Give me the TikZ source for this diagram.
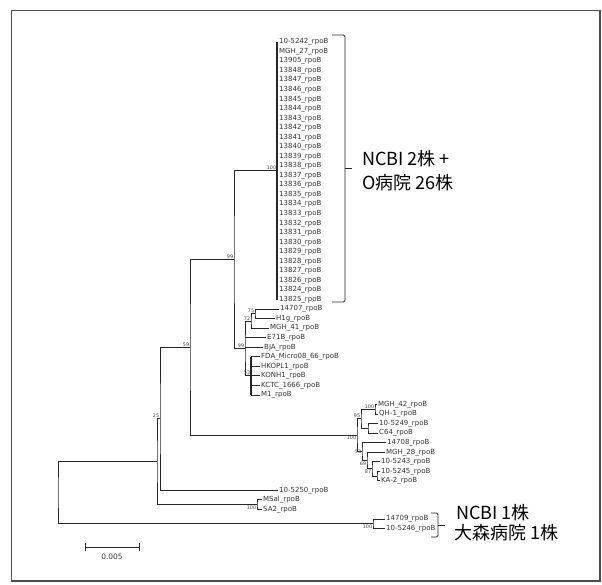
\documentclass[tikz,border=0pt]{standalone}
\usepackage{fontspec}
\newfontfamily\leaffont{DejaVu Sans}
\newfontfamily\jpfont{Noto Sans CJK JP}
\begin{document}
\begin{tikzpicture}[x=1pt, y=-1pt,
  branch/.style={line width=0.9pt, black!85},
  leaf/.style={anchor=west, inner sep=1pt, font=\leaffont\fontsize{7}{7}\selectfont, text=black!80},
  boot/.style={inner sep=0.7pt, font=\leaffont\fontsize{4.8}{5}\selectfont, text=black!75},
  group/.style={anchor=west, inner sep=0pt, font=\jpfont\fontsize{18}{18}\selectfont},
  brace/.style={line width=0.9pt, black!85, rounded corners=1.5pt}]

  \useasboundingbox (0,0) rectangle (602,584);

  % Frame
  \draw[line width=1.1pt, black!70] (11.5,10.5) rectangle (600,581);

  % Leaves
  \foreach \i/\x/\lab in {0/278/10-5242, 1/278/MGH\_27, 2/278/13905, 3/278/13848, 4/278/13847,
      5/278/13846, 6/278/13845, 7/278/13844, 8/278/13843, 9/278/13842, 10/278/13841,
      11/278/13840, 12/278/13839, 13/278/13838, 14/278/13837, 15/278/13836, 16/278/13835,
      17/278/13834, 18/278/13833, 19/278/13832, 20/278/13831, 21/278/13830, 22/278/13829,
      23/278/13828, 24/278/13827, 25/278/13826, 26/278/13824, 27/278/13825,
      28/279/14707, 29/275/H1g, 30/269/MGH\_41, 31/266/E71B, 32/263/BJA,
      33/260/FDA\_Micro08\_66, 34/260/HKOPL1, 35/260/KONH1, 36/260/KCTC\_1666, 37/260/M1,
      38/377/MGH\_42, 39/378/QH-1, 40/378/10-5249, 41/378/C64, 42/386/14708,
      43/385/MGH\_28, 44/380/10-5243, 45/380/10-5245, 46/380/KA-2,
      47/278/10-5250, 48/262/MSal, 49/262/SA2, 50/385/14709, 51/385/10-5246} {
    \node[leaf] (l\i) at (\x,{42+9.54*\i}) {\lab\_rpoB};
  }

  % Internal nodes
  \coordinate (nD) at (277,170.8);
  \coordinate (nE2) at (255,313.9);
  \coordinate (nE1) at (251,321.1);
  \coordinate (nE3) at (251,375.9);
  \coordinate (nE) at (245,348.5);
  \coordinate (nC) at (234,259.6);
  \coordinate (nF1) at (375,409.3);
  \coordinate (nF2) at (368,428.4);
  \coordinate (nF3) at (361,418.9);
  \coordinate (nF7) at (377,476.1);
  \coordinate (nF6) at (372,468.9);
  \coordinate (nF5) at (367,460.6);
  \coordinate (nF4) at (362,451.6);
  \coordinate (nF) at (357,435.3);
  \coordinate (nB) at (190,347.4);
  \coordinate (nB0) at (160,418.9);
  \coordinate (nG) at (257,504.7);
  \coordinate (nA) at (157,461.8);
  \coordinate (nH) at (373,523.8);
  \coordinate (nR) at (58,492.8);

  % Big clade
  \draw[branch, line width=1.6pt] (nD |- l0.west) -- (nD |- l27.west);

  % Middle clade
  \draw[branch] (l28.west) -| (nE2) |- (l29.west);
  \draw[branch] (nE2) -| (nE1) |- (l30.west);
  \draw[branch, line width=1.4pt] (nE3 |- l33.west) -- (nE3 |- l37.west);
  \foreach \i in {33,...,37} {
    \draw[branch] (nE3 |- l\i.west) -- (l\i.west);
  }
  \draw[branch] (nE1) -| (nE) |- (nE3);
  \draw[branch] (nE |- l31.west) -- (l31.west);
  \draw[branch] (nE |- l32.west) -- (l32.west);
  \draw[branch] (nD) -| (nC) |- (nE);

  % Right clade
  \draw[branch] (l38.west) -| (nF1) |- (l39.west);
  \draw[branch] (l40.west) -| (nF2) |- (l41.west);
  \draw[branch] (nF1) -| (nF3) |- (nF2);
  \draw[branch] (l45.west) -| (nF7) |- (l46.west);
  \draw[branch] (l44.west) -| (nF6) |- (nF7);
  \draw[branch] (l43.west) -| (nF5) |- (nF6);
  \draw[branch] (l42.west) -| (nF4) |- (nF5);
  \draw[branch] (nF3) -| (nF) |- (nF4);

  % Lower part and root
  \draw[branch] (nC) -| (nB) |- (nF);
  \draw[branch] (nB) -| (nB0) |- (l47.west);
  \draw[branch] (l48.west) -| (nG) |- (l49.west);
  \draw[branch] (nB0) -| (nA) |- (nG);
  \draw[branch] (l50.west) -| (nH) |- (l51.west);
  \draw[branch] (nA) -| (nR) |- (nH);

  % Bootstrap values
  \node[boot, anchor=south east] (bD) at (nD) {100};
  \node[boot, anchor=south east] (bC) at (nC) {99};
  \node[boot, anchor=south east] (bB) at (nB) {59};
  \node[boot, anchor=south east] (bB0) at (nB0) {25};
  \node[boot, anchor=south east] (bE) at (nE) {99};
  \node[boot, anchor=south east] (bE1) at (nE1) {72};
  \node[boot, anchor=south east] (bE2) at (nE2) {75};
  \node[boot, anchor=south east] (bE3) at (nE3) {53};
  \node[boot, anchor=south east] (bF1) at (nF1) {100};
  \node[boot, anchor=south east] (bF3) at (nF3) {95};
  \node[boot, anchor=north east] (bF) at (nF) {100};
  \node[boot, anchor=east] (bF4) at (nF4) {53};
  \node[boot, anchor=north east] (bF5) at (nF5) {69};
  \node[boot, anchor=north east] (bF6) at (nF6) {87};
  \node[boot, anchor=north east] (bG) at (nG) {100};
  \node[boot, anchor=north east] (bH) at (nH) {100};

  % Group brackets
  \draw[brace] (332,35) -- (345,35) -- (345,302) -- (332,302);
  \draw[brace] (345,168) -- (352,168);
  \node[group] (g1) at (362,159) {NCBI 2株 +};
  \node[group] (g2) at (362,183) {O病院 26株};

  \draw[brace] (431,513) -- (438,513) -- (438,537) -- (431,537);
  \draw[brace] (438,525) -- (445,525);
  \node[group] (g3) at (456,513) {NCBI 1株};
  \node[group] (g4) at (454,533) {大森病院 1株};

  % Scale bar
  \coordinate (s1) at (85,547);
  \coordinate (s2) at (139,547);
  \draw[branch] (s1) -- (s2);
  \draw[branch] ([yshift=-4pt]s1) -- ([yshift=4pt]s1);
  \draw[branch] ([yshift=-4pt]s2) -- ([yshift=4pt]s2);
  \node[leaf, anchor=north, font=\leaffont\fontsize{7.5}{8}\selectfont] (sc) at (112,553) {0.005};
\end{tikzpicture}
\end{document}
